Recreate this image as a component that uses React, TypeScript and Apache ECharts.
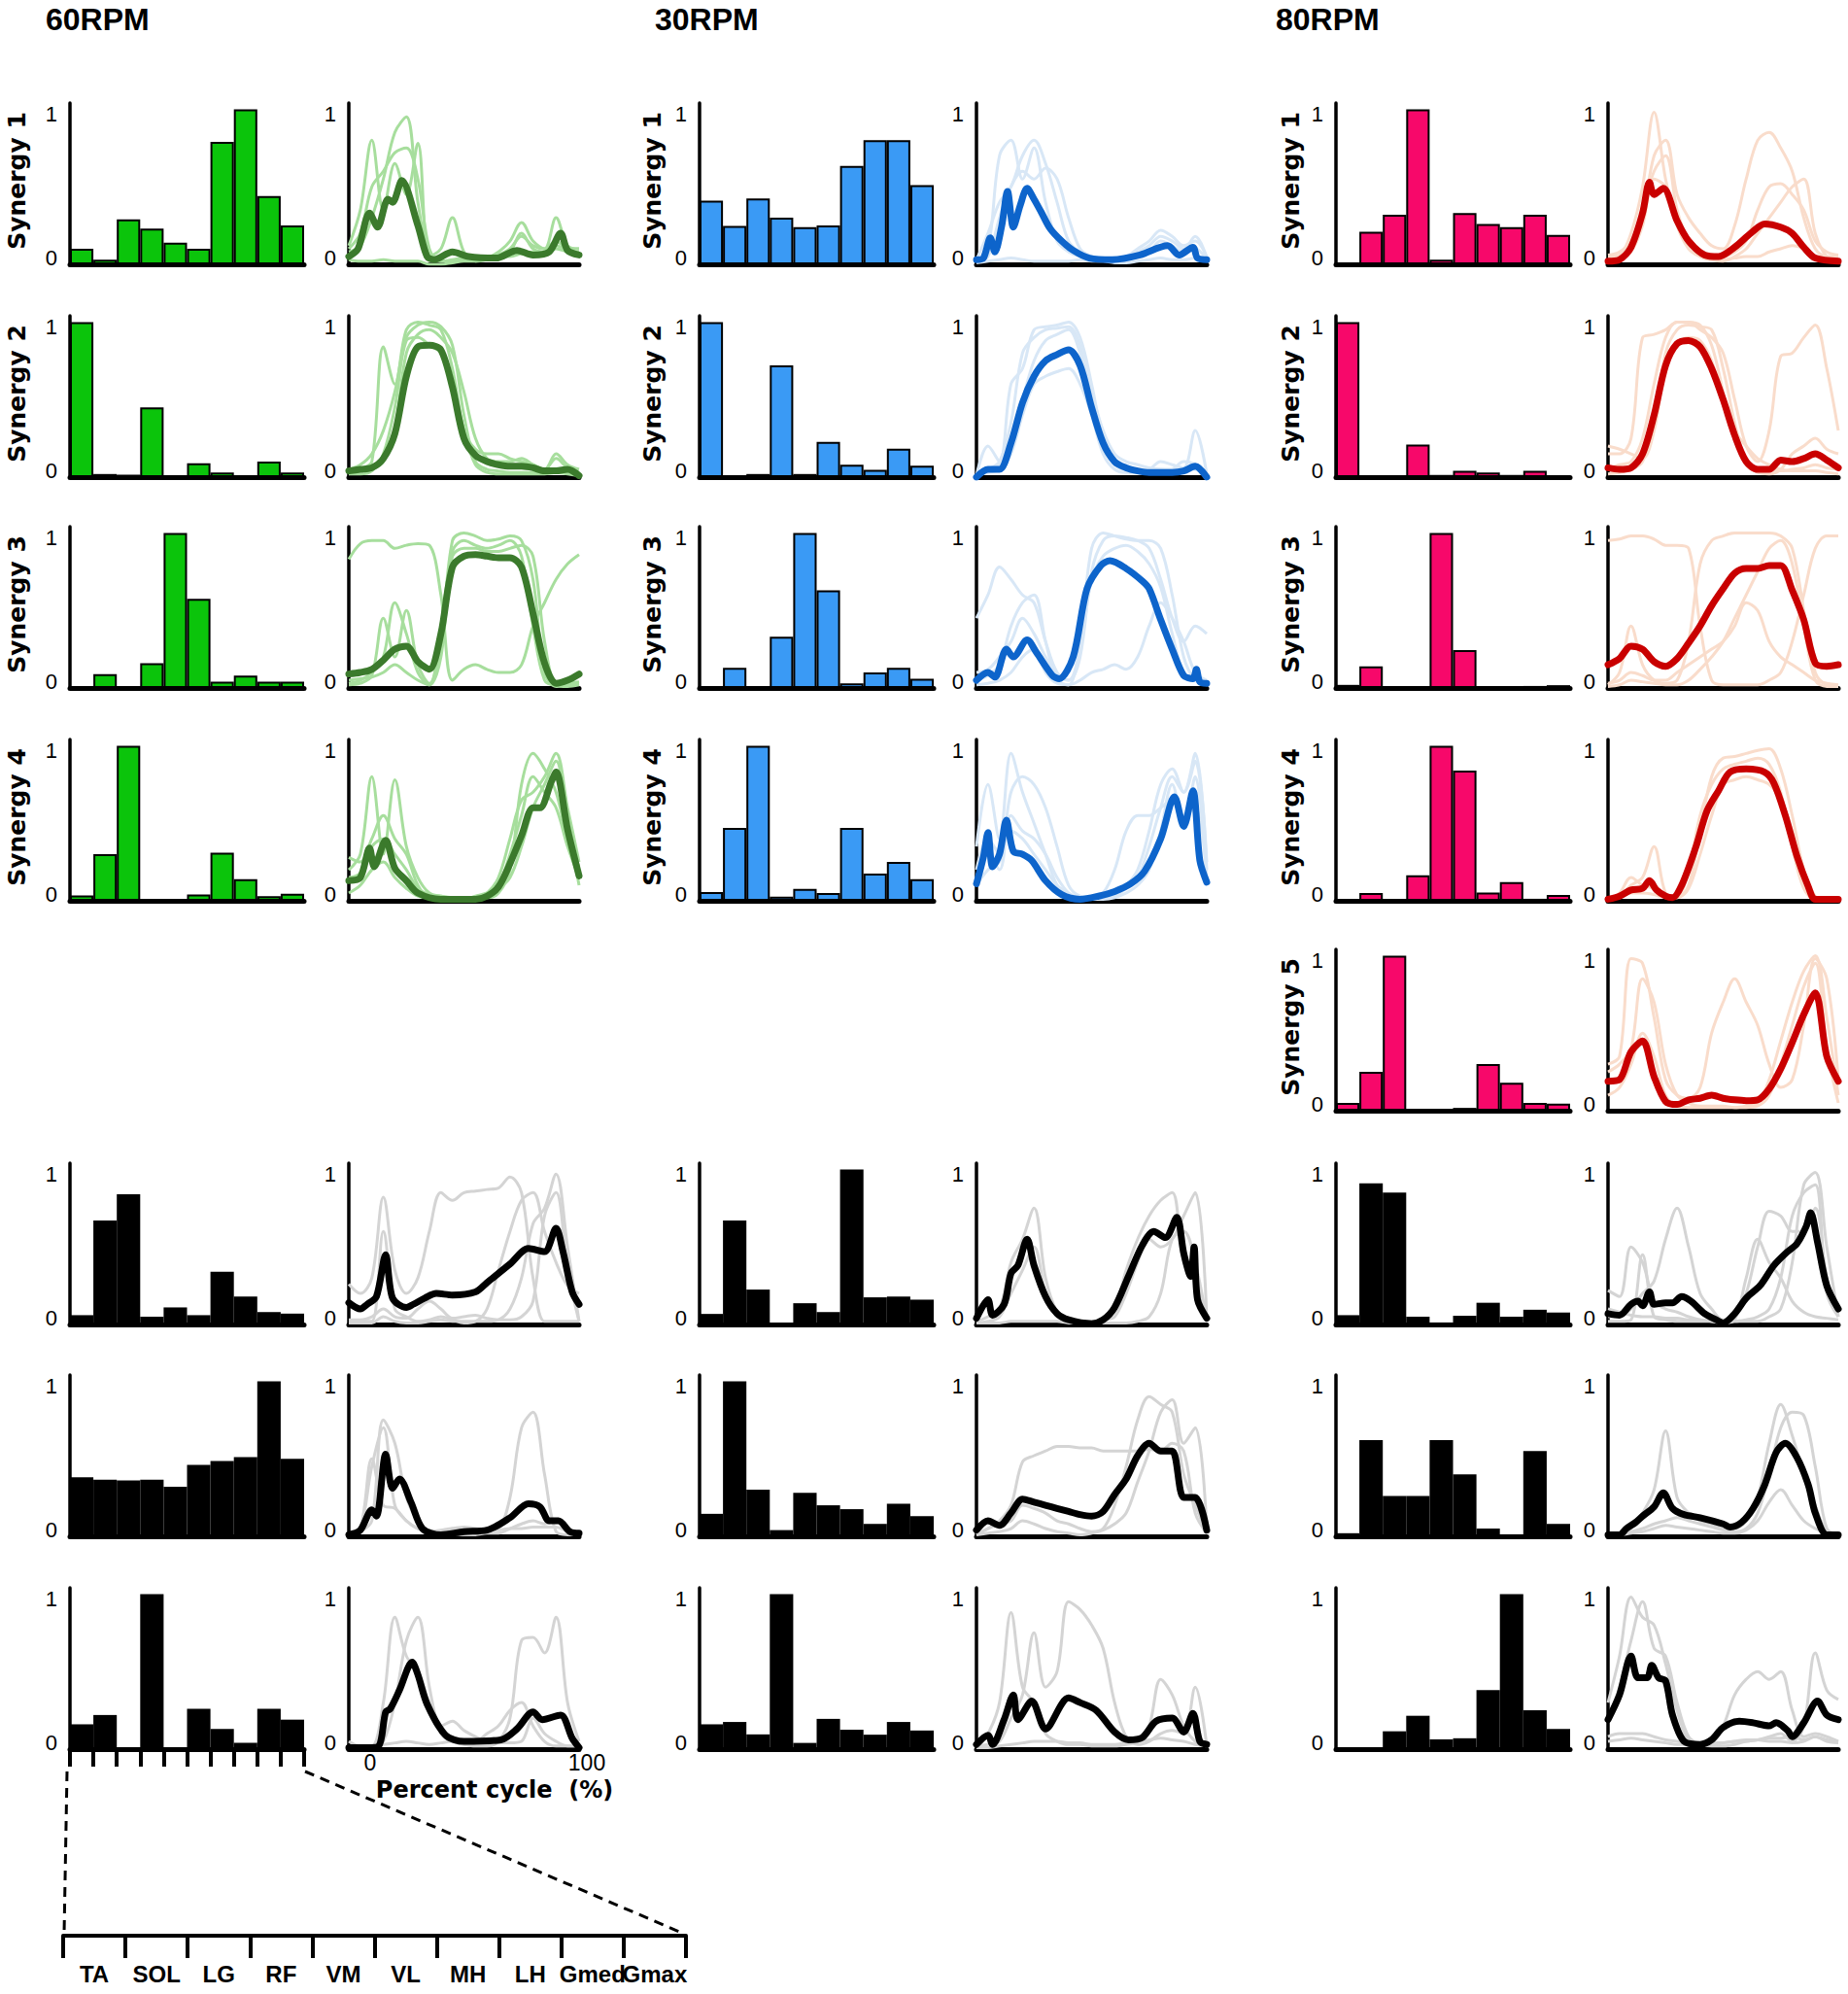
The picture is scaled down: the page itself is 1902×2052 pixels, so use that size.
import React, { useEffect, useRef } from 'react';
import * as echarts from 'echarts';

// ---------- categories / ticks ----------
const MUSCLES = ['TA', 'SOL', 'LG', 'RF', 'VM', 'VL', 'MH', 'LH', 'Gmed', 'Gmax'];
const PCT = [0, 5, 10, 15, 20, 25, 30, 35, 40, 45, 50, 55, 60, 65, 70, 75, 80, 85, 90, 95, 100];
const CONDITIONS = ['60RPM', '30RPM', '80RPM'];
const SYNERGY_LABELS = ['Synergy 1', 'Synergy 2', 'Synergy 3', 'Synergy 4', 'Synergy 5'];
const Y_TICKS = ['0', '1'];
const CYCLE_TICKS = ['0', '100'];
const CYCLE_TITLE = 'Percent cycle  (%)';

// ---------- 60 RPM ----------
const rpm60_s1_w = [0.10, 0.03, 0.29, 0.23, 0.14, 0.10, 0.79, 1.0, 0.44, 0.25];
const rpm60_s1_meanX = [0, 4, 9, 12.5, 17, 19, 23, 30, 34, 37, 45, 52, 64, 73, 80, 87, 92, 95, 100];
const rpm60_s1_mean = [0.05, 0.10, 0.33, 0.24, 0.42, 0.40, 0.54, 0.25, 0.05, 0.03, 0.08, 0.05, 0.04, 0.09, 0.06, 0.08, 0.20, 0.09, 0.06];
const rpm60_s1_subj = [
  [0.12, 0.35, 0.80, 0.35, 0.65, 0.45, 0.78, 0.05, 0.10, 0.30, 0.08, 0.02, 0.04, 0.08, 0.15, 0.27, 0.15, 0.10, 0.30, 0.12, 0.10],
  [0.08, 0.12, 0.30, 0.55, 0.85, 0.95, 0.40, 0.05, 0.02, 0.02, 0.03, 0.05, 0.04, 0.06, 0.10, 0.18, 0.12, 0.10, 0.15, 0.10, 0.10],
  [0.03, 0.02, 0.02, 0.03, 0.02, 0.02, 0.02, 0.00, 0.00, 0.01, 0.02, 0.02, 0.03, 0.05, 0.05, 0.07, 0.08, 0.06, 0.10, 0.08, 0.07],
  [0.10, 0.20, 0.50, 0.60, 0.72, 0.75, 0.55, 0.10, 0.02, 0.03, 0.04, 0.04, 0.03, 0.04, 0.08, 0.20, 0.10, 0.08, 0.12, 0.09, 0.08],
];
const rpm60_s2_w = [1.0, 0.02, 0.015, 0.45, 0.005, 0.09, 0.03, 0.005, 0.10, 0.03];
const rpm60_s2_mean = [0.04, 0.05, 0.06, 0.12, 0.28, 0.65, 0.84, 0.85, 0.82, 0.58, 0.25, 0.14, 0.10, 0.08, 0.07, 0.07, 0.06, 0.04, 0.04, 0.05, 0.01];
const rpm60_s2_subj = [
  [0.02, 0.05, 0.10, 0.84, 0.60, 0.95, 1.0, 0.98, 0.95, 0.70, 0.30, 0.18, 0.15, 0.15, 0.12, 0.10, 0.08, 0.05, 0.12, 0.06, 0.03],
  [0.05, 0.08, 0.15, 0.30, 0.55, 0.90, 0.98, 1.0, 0.97, 0.85, 0.40, 0.10, 0.05, 0.04, 0.03, 0.03, 0.03, 0.03, 0.04, 0.03, 0.02],
  [0.03, 0.04, 0.05, 0.10, 0.30, 0.80, 0.92, 0.95, 0.90, 0.80, 0.55, 0.25, 0.12, 0.10, 0.10, 0.12, 0.08, 0.05, 0.15, 0.08, 0.05],
  [0.02, 0.02, 0.04, 0.15, 0.45, 0.88, 0.90, 0.85, 0.80, 0.60, 0.30, 0.08, 0.03, 0.02, 0.02, 0.02, 0.02, 0.02, 0.03, 0.02, 0.01],
];
const rpm60_s3_w = [0.01, 0.09, 0.0, 0.16, 1.0, 0.575, 0.04, 0.08, 0.04, 0.04];
const rpm60_s3_mean = [0.09, 0.10, 0.12, 0.18, 0.25, 0.27, 0.17, 0.12, 0.35, 0.78, 0.85, 0.86, 0.85, 0.84, 0.84, 0.78, 0.48, 0.16, 0.03, 0.05, 0.09];
const rpm60_s3_subj = [
  [0.83, 0.93, 0.95, 0.95, 0.90, 0.92, 0.93, 0.92, 0.60, 0.05, 0.12, 0.15, 0.12, 0.10, 0.10, 0.15, 0.40, 0.55, 0.70, 0.80, 0.86],
  [0.02, 0.03, 0.08, 0.45, 0.20, 0.50, 0.15, 0.03, 0.30, 0.95, 1.0, 0.98, 0.95, 0.96, 0.98, 0.95, 0.70, 0.10, 0.01, 0.02, 0.03],
  [0.03, 0.05, 0.10, 0.20, 0.55, 0.35, 0.10, 0.02, 0.20, 0.88, 0.95, 0.92, 0.90, 0.92, 0.95, 0.85, 0.40, 0.05, 0.02, 0.03, 0.04],
  [0.05, 0.06, 0.07, 0.10, 0.15, 0.10, 0.05, 0.02, 0.40, 0.85, 0.90, 0.90, 0.88, 0.88, 0.90, 0.92, 0.85, 0.30, 0.02, 0.01, 0.02],
];
const rpm60_s4_w = [0.035, 0.30, 1.0, 0.006, 0.0, 0.04, 0.31, 0.14, 0.03, 0.045];
const rpm60_s4_meanX = [0, 5, 9, 11, 16, 20, 25, 30, 40, 55, 60, 65, 70, 75, 80, 83, 88, 90, 95, 100];
const rpm60_s4_mean = [0.13, 0.15, 0.34, 0.22, 0.39, 0.21, 0.13, 0.05, 0.01, 0.01, 0.03, 0.09, 0.24, 0.42, 0.60, 0.60, 0.77, 0.83, 0.46, 0.16];
const rpm60_s4_subj = [
  [0.20, 0.30, 0.80, 0.30, 0.78, 0.35, 0.15, 0.05, 0.03, 0.02, 0.02, 0.02, 0.02, 0.05, 0.20, 0.75, 0.95, 0.85, 0.70, 0.40, 0.22],
  [0.28, 0.25, 0.40, 0.55, 0.40, 0.30, 0.10, 0.02, 0.02, 0.02, 0.01, 0.02, 0.05, 0.15, 0.40, 0.65, 0.70, 0.80, 0.95, 0.60, 0.25],
  [0.05, 0.10, 0.20, 0.25, 0.15, 0.08, 0.03, 0.02, 0.02, 0.01, 0.01, 0.03, 0.05, 0.08, 0.15, 0.35, 0.60, 0.75, 0.90, 0.50, 0.10],
  [0.15, 0.18, 0.35, 0.40, 0.30, 0.20, 0.08, 0.04, 0.03, 0.02, 0.02, 0.02, 0.04, 0.10, 0.30, 0.55, 0.80, 0.70, 0.60, 0.35, 0.15],
];
const rpm60_b1_w = [0.06, 0.67, 0.84, 0.05, 0.11, 0.06, 0.34, 0.18, 0.08, 0.07];
const rpm60_b1_meanX = [0, 5, 8, 12, 16, 19, 25, 28, 33, 38, 45, 55, 60, 70, 78, 85, 90, 93, 97, 100];
const rpm60_b1_mean = [0.14, 0.10, 0.13, 0.18, 0.45, 0.17, 0.11, 0.13, 0.17, 0.20, 0.19, 0.21, 0.27, 0.39, 0.49, 0.47, 0.62, 0.47, 0.21, 0.13];
const rpm60_b1_subj = [
  [0.26, 0.20, 0.30, 0.82, 0.35, 0.20, 0.30, 0.60, 0.85, 0.80, 0.85, 0.86, 0.87, 0.88, 0.95, 0.85, 0.30, 0.02, 0.02, 0.02, 0.02],
  [0.02, 0.02, 0.02, 0.60, 0.10, 0.05, 0.02, 0.03, 0.05, 0.03, 0.01, 0.02, 0.10, 0.35, 0.60, 0.80, 0.85, 0.60, 0.40, 0.25, 0.20],
  [0.01, 0.01, 0.01, 0.05, 0.02, 0.01, 0.01, 0.02, 0.03, 0.02, 0.02, 0.02, 0.02, 0.03, 0.10, 0.30, 0.65, 0.75, 0.97, 0.50, 0.02],
  [0.03, 0.03, 0.05, 0.10, 0.05, 0.04, 0.10, 0.15, 0.10, 0.04, 0.05, 0.06, 0.04, 0.03, 0.03, 0.05, 0.15, 0.70, 0.85, 0.35, 0.02],
];
const rpm60_b2_w = [0.38, 0.365, 0.36, 0.365, 0.32, 0.46, 0.485, 0.51, 1.0, 0.50];
const rpm60_b2_meanX = [0, 5, 10, 12, 16, 19, 22, 27, 32, 40, 50, 60, 70, 78, 83, 87, 91, 96, 100];
const rpm60_b2_mean = [0.01, 0.04, 0.17, 0.13, 0.53, 0.31, 0.37, 0.22, 0.05, 0.01, 0.03, 0.04, 0.12, 0.21, 0.19, 0.10, 0.10, 0.03, 0.02];
const rpm60_b2_subj = [
  [0.02, 0.05, 0.45, 0.70, 0.20, 0.10, 0.05, 0.04, 0.03, 0.05, 0.06, 0.05, 0.04, 0.05, 0.25, 0.70, 0.80, 0.40, 0.03, 0.01, 0.01],
  [0.01, 0.03, 0.10, 0.75, 0.60, 0.25, 0.10, 0.03, 0.02, 0.01, 0.01, 0.01, 0.02, 0.02, 0.05, 0.08, 0.10, 0.08, 0.10, 0.05, 0.02],
  [0.02, 0.05, 0.50, 0.20, 0.18, 0.10, 0.05, 0.03, 0.04, 0.05, 0.05, 0.05, 0.04, 0.04, 0.05, 0.05, 0.06, 0.06, 0.06, 0.03, 0.01],
];
const rpm60_b3_w = [0.16, 0.22, 0.0, 1.0, 0.0, 0.26, 0.13, 0.04, 0.26, 0.19];
const rpm60_b3_meanX = [0, 8, 13, 16, 18, 22, 27.5, 30, 34, 42, 50, 66, 73, 80, 84, 92, 97, 100];
const rpm60_b3_mean = [0.01, 0.01, 0.02, 0.24, 0.26, 0.38, 0.56, 0.48, 0.29, 0.09, 0.05, 0.06, 0.13, 0.24, 0.19, 0.22, 0.07, 0.01];
const rpm60_b3_subj = [
  [0.05, 0.02, 0.02, 0.30, 0.85, 0.60, 0.50, 0.30, 0.15, 0.18, 0.12, 0.08, 0.05, 0.04, 0.04, 0.05, 0.20, 0.10, 0.05, 0.02, 0.02],
  [0.01, 0.01, 0.01, 0.05, 0.30, 0.70, 0.85, 0.40, 0.10, 0.05, 0.03, 0.02, 0.02, 0.05, 0.20, 0.70, 0.72, 0.62, 0.85, 0.30, 0.05],
  [0.02, 0.02, 0.02, 0.03, 0.04, 0.05, 0.04, 0.03, 0.04, 0.05, 0.05, 0.05, 0.10, 0.15, 0.25, 0.30, 0.15, 0.05, 0.02, 0.02, 0.02],
];

// ---------- 30 RPM ----------
const rpm30_s1_w = [0.41, 0.247, 0.425, 0.30, 0.24, 0.25, 0.635, 0.80, 0.80, 0.51];
const rpm30_s1_meanX = [0, 3, 6, 8, 11, 13.5, 16, 19, 22, 25, 28, 32, 37, 42, 49, 59, 71, 83, 88, 94, 96, 100];
const rpm30_s1_mean = [0.03, 0.04, 0.17, 0.08, 0.25, 0.47, 0.24, 0.38, 0.49, 0.42, 0.34, 0.23, 0.15, 0.09, 0.04, 0.03, 0.06, 0.12, 0.06, 0.11, 0.04, 0.03];
const rpm30_s1_subj = [
  [0.02, 0.10, 0.70, 0.80, 0.55, 0.75, 0.40, 0.15, 0.08, 0.05, 0.03, 0.03, 0.03, 0.05, 0.10, 0.15, 0.22, 0.18, 0.12, 0.15, 0.05],
  [0.03, 0.20, 0.40, 0.50, 0.70, 0.80, 0.65, 0.40, 0.15, 0.08, 0.05, 0.04, 0.03, 0.04, 0.08, 0.12, 0.18, 0.15, 0.10, 0.18, 0.04],
  [0.02, 0.05, 0.30, 0.50, 0.60, 0.55, 0.62, 0.55, 0.30, 0.10, 0.05, 0.03, 0.03, 0.03, 0.05, 0.08, 0.15, 0.12, 0.08, 0.10, 0.03],
  [0.01, 0.02, 0.03, 0.04, 0.03, 0.02, 0.02, 0.02, 0.02, 0.03, 0.02, 0.02, 0.01, 0.01, 0.02, 0.03, 0.04, 0.03, 0.03, 0.04, 0.02],
];
const rpm30_s2_w = [1.0, 0.01, 0.02, 0.72, 0.02, 0.227, 0.08, 0.047, 0.184, 0.074];
const rpm30_s2_mean = [0.0, 0.05, 0.05, 0.22, 0.48, 0.65, 0.75, 0.79, 0.82, 0.72, 0.45, 0.22, 0.10, 0.06, 0.04, 0.03, 0.03, 0.03, 0.04, 0.07, 0.0];
const rpm30_s2_subj = [
  [0.01, 0.20, 0.10, 0.60, 0.70, 0.95, 0.97, 0.98, 1.0, 0.90, 0.60, 0.25, 0.10, 0.05, 0.04, 0.05, 0.10, 0.08, 0.06, 0.30, 0.02],
  [0.02, 0.05, 0.10, 0.35, 0.80, 0.90, 0.95, 0.96, 0.97, 0.85, 0.50, 0.20, 0.08, 0.05, 0.05, 0.05, 0.05, 0.04, 0.04, 0.06, 0.02],
  [0.01, 0.03, 0.05, 0.15, 0.40, 0.60, 0.65, 0.68, 0.70, 0.60, 0.40, 0.15, 0.05, 0.03, 0.03, 0.03, 0.04, 0.05, 0.10, 0.08, 0.01],
  [0.02, 0.04, 0.08, 0.25, 0.50, 0.75, 0.88, 0.92, 0.95, 0.80, 0.55, 0.30, 0.15, 0.10, 0.08, 0.06, 0.05, 0.05, 0.06, 0.05, 0.02],
];
const rpm30_s3_w = [0.0, 0.13, 0.01, 0.33, 1.0, 0.63, 0.03, 0.10, 0.13, 0.06];
const rpm30_s3_meanX = [0, 5, 8, 13, 16, 22, 26, 33, 36, 42, 48, 54, 58, 65, 72, 75, 80, 85, 90, 94, 95.5, 97, 100];
const rpm30_s3_mean = [0.05, 0.10, 0.07, 0.25, 0.20, 0.31, 0.23, 0.08, 0.06, 0.20, 0.64, 0.79, 0.82, 0.77, 0.69, 0.64, 0.44, 0.25, 0.08, 0.06, 0.12, 0.04, 0.03];
const rpm30_s3_subj = [
  [0.45, 0.60, 0.78, 0.70, 0.60, 0.55, 0.30, 0.10, 0.05, 0.20, 0.75, 0.95, 0.98, 0.97, 0.95, 0.90, 0.70, 0.45, 0.30, 0.40, 0.35],
  [0.05, 0.08, 0.15, 0.40, 0.55, 0.60, 0.30, 0.05, 0.02, 0.30, 0.90, 1.0, 0.98, 0.96, 0.95, 0.95, 0.90, 0.60, 0.20, 0.05, 0.02],
  [0.02, 0.03, 0.05, 0.10, 0.20, 0.25, 0.10, 0.03, 0.02, 0.05, 0.10, 0.12, 0.15, 0.12, 0.20, 0.40, 0.55, 0.45, 0.30, 0.10, 0.05],
  [0.10, 0.12, 0.20, 0.30, 0.45, 0.35, 0.20, 0.08, 0.05, 0.25, 0.70, 0.85, 0.90, 0.92, 0.88, 0.80, 0.65, 0.35, 0.10, 0.05, 0.04],
];
const rpm30_s4_w = [0.056, 0.47, 1.0, 0.027, 0.076, 0.05, 0.47, 0.175, 0.25, 0.14];
const rpm30_s4_meanX = [0, 3, 5, 7, 10, 13, 16, 20, 24, 30, 37, 45, 53, 60, 67, 73, 80, 86, 90, 94, 97, 100];
const rpm30_s4_mean = [0.11, 0.28, 0.44, 0.22, 0.30, 0.52, 0.32, 0.30, 0.26, 0.13, 0.04, 0.01, 0.03, 0.06, 0.11, 0.19, 0.40, 0.67, 0.48, 0.71, 0.26, 0.12];
const rpm30_s4_subj = [
  [0.35, 0.75, 0.40, 0.95, 0.70, 0.50, 0.30, 0.10, 0.03, 0.02, 0.02, 0.02, 0.05, 0.10, 0.20, 0.45, 0.75, 0.85, 0.70, 0.95, 0.20],
  [0.20, 0.40, 0.30, 0.70, 0.80, 0.75, 0.60, 0.35, 0.10, 0.03, 0.02, 0.02, 0.03, 0.08, 0.15, 0.35, 0.60, 0.80, 0.70, 0.90, 0.25],
  [0.10, 0.20, 0.25, 0.45, 0.40, 0.30, 0.20, 0.10, 0.05, 0.02, 0.02, 0.05, 0.20, 0.45, 0.55, 0.55, 0.60, 0.65, 0.55, 0.60, 0.15],
  [0.15, 0.30, 0.20, 0.55, 0.45, 0.40, 0.30, 0.15, 0.05, 0.01, 0.01, 0.01, 0.02, 0.05, 0.10, 0.20, 0.45, 0.75, 0.50, 0.80, 0.10],
];
const rpm30_b1_w = [0.068, 0.67, 0.225, 0.005, 0.137, 0.08, 1.0, 0.175, 0.18, 0.16];
const rpm30_b1_meanX = [0, 5, 7, 12, 15, 18, 22, 25, 30, 35, 40, 50, 55, 60, 66, 72, 77, 82, 87, 90, 93, 94.5, 96, 100];
const rpm30_b1_mean = [0.04, 0.16, 0.06, 0.13, 0.33, 0.38, 0.55, 0.38, 0.18, 0.07, 0.03, 0.005, 0.03, 0.11, 0.31, 0.51, 0.60, 0.56, 0.69, 0.46, 0.31, 0.50, 0.16, 0.04];
const rpm30_b1_subj = [
  [0.02, 0.05, 0.10, 0.40, 0.55, 0.75, 0.30, 0.08, 0.02, 0.01, 0.01, 0.02, 0.10, 0.35, 0.55, 0.70, 0.80, 0.85, 0.40, 0.30, 0.05],
  [0.01, 0.02, 0.05, 0.20, 0.35, 0.50, 0.20, 0.05, 0.03, 0.02, 0.02, 0.03, 0.05, 0.20, 0.40, 0.55, 0.50, 0.55, 0.70, 0.85, 0.05],
  [0.01, 0.01, 0.01, 0.02, 0.02, 0.02, 0.02, 0.02, 0.01, 0.01, 0.01, 0.01, 0.01, 0.01, 0.02, 0.05, 0.20, 0.55, 0.60, 0.40, 0.02],
];
const rpm30_b2_w = [0.145, 1.0, 0.30, 0.04, 0.28, 0.20, 0.175, 0.08, 0.21, 0.13];
const rpm30_b2_mean = [0.04, 0.10, 0.07, 0.15, 0.24, 0.22, 0.20, 0.18, 0.16, 0.14, 0.13, 0.16, 0.27, 0.37, 0.52, 0.60, 0.55, 0.55, 0.25, 0.25, 0.04];
const rpm30_b2_subj = [
  [0.02, 0.05, 0.10, 0.20, 0.48, 0.52, 0.55, 0.58, 0.58, 0.57, 0.57, 0.55, 0.55, 0.55, 0.55, 0.56, 0.55, 0.60, 0.55, 0.15, 0.02],
  [0.01, 0.05, 0.08, 0.10, 0.20, 0.18, 0.15, 0.10, 0.08, 0.05, 0.03, 0.05, 0.20, 0.45, 0.75, 0.90, 0.85, 0.80, 0.40, 0.20, 0.02],
  [0.01, 0.02, 0.03, 0.05, 0.10, 0.08, 0.05, 0.03, 0.02, 0.01, 0.02, 0.04, 0.08, 0.15, 0.35, 0.55, 0.80, 0.88, 0.60, 0.70, 0.05],
];
const rpm30_b3_w = [0.16, 0.175, 0.095, 1.0, 0.04, 0.195, 0.125, 0.093, 0.175, 0.12];
const rpm30_b3_meanX = [0, 5, 7, 12, 16, 18, 24, 30, 40, 45, 52, 60, 66, 72, 78, 85, 90, 94, 97, 100];
const rpm30_b3_mean = [0.03, 0.09, 0.03, 0.19, 0.35, 0.19, 0.31, 0.13, 0.33, 0.30, 0.25, 0.11, 0.06, 0.075, 0.18, 0.20, 0.11, 0.23, 0.05, 0.03];
const rpm30_b3_subj = [
  [0.02, 0.10, 0.30, 0.88, 0.40, 0.30, 0.10, 0.05, 0.03, 0.03, 0.02, 0.02, 0.02, 0.03, 0.05, 0.15, 0.45, 0.35, 0.15, 0.05, 0.02],
  [0.02, 0.03, 0.05, 0.20, 0.35, 0.75, 0.40, 0.50, 0.95, 0.90, 0.80, 0.65, 0.30, 0.08, 0.03, 0.05, 0.10, 0.12, 0.10, 0.40, 0.02],
  [0.01, 0.01, 0.02, 0.03, 0.04, 0.05, 0.05, 0.05, 0.04, 0.04, 0.03, 0.03, 0.03, 0.04, 0.05, 0.06, 0.07, 0.06, 0.05, 0.03, 0.02],
];

// ---------- 80 RPM ----------
const rpm80_s1_w = [0.0, 0.21, 0.32, 1.0, 0.03, 0.33, 0.26, 0.24, 0.32, 0.19];
const rpm80_s1_meanX = [0, 5, 10, 15, 18, 20, 24, 30, 35, 42, 48, 55, 62, 68, 75, 80, 85, 90, 100];
const rpm80_s1_mean = [0.02, 0.03, 0.11, 0.33, 0.53, 0.45, 0.49, 0.28, 0.15, 0.06, 0.05, 0.11, 0.20, 0.26, 0.24, 0.20, 0.11, 0.04, 0.02];
const rpm80_s1_subj = [
  [0.05, 0.06, 0.20, 0.50, 0.98, 0.55, 0.25, 0.10, 0.05, 0.03, 0.03, 0.04, 0.05, 0.05, 0.08, 0.10, 0.12, 0.10, 0.05, 0.04, 0.03],
  [0.04, 0.05, 0.10, 0.30, 0.70, 0.80, 0.45, 0.30, 0.20, 0.12, 0.10, 0.25, 0.55, 0.80, 0.85, 0.75, 0.60, 0.30, 0.10, 0.05, 0.05],
  [0.02, 0.03, 0.08, 0.25, 0.55, 0.50, 0.30, 0.15, 0.06, 0.03, 0.02, 0.05, 0.10, 0.20, 0.30, 0.40, 0.50, 0.55, 0.20, 0.05, 0.03],
  [0.06, 0.08, 0.15, 0.35, 0.60, 0.70, 0.35, 0.15, 0.08, 0.05, 0.05, 0.08, 0.15, 0.35, 0.50, 0.52, 0.45, 0.35, 0.15, 0.08, 0.06],
];
const rpm80_s2_w = [1.0, 0.004, 0.01, 0.21, 0.014, 0.04, 0.03, 0.014, 0.04, 0.01];
const rpm80_s2_mean = [0.06, 0.05, 0.06, 0.15, 0.40, 0.72, 0.86, 0.88, 0.84, 0.70, 0.50, 0.27, 0.10, 0.05, 0.05, 0.11, 0.10, 0.12, 0.15, 0.11, 0.06];
const rpm80_s2_subj = [
  [0.15, 0.15, 0.25, 0.90, 0.92, 0.95, 1.0, 1.0, 0.98, 0.85, 0.55, 0.25, 0.08, 0.04, 0.04, 0.04, 0.05, 0.06, 0.08, 0.06, 0.05],
  [0.05, 0.08, 0.10, 0.25, 0.60, 0.90, 1.0, 1.0, 0.95, 0.90, 0.80, 0.50, 0.20, 0.10, 0.30, 0.78, 0.80, 0.90, 0.98, 0.70, 0.30],
  [0.02, 0.03, 0.05, 0.10, 0.35, 0.80, 0.95, 0.98, 0.97, 0.95, 0.70, 0.35, 0.10, 0.03, 0.02, 0.05, 0.15, 0.20, 0.25, 0.18, 0.15],
  [0.20, 0.18, 0.15, 0.12, 0.30, 0.70, 0.85, 0.90, 0.88, 0.75, 0.50, 0.30, 0.20, 0.12, 0.08, 0.05, 0.04, 0.04, 0.04, 0.03, 0.02],
];
const rpm80_s3_w = [0.02, 0.14, 0.0, 0.01, 1.0, 0.245, 0.003, 0.008, 0.013, 0.018];
const rpm80_s3_mean = [0.15, 0.19, 0.27, 0.25, 0.17, 0.14, 0.19, 0.29, 0.40, 0.53, 0.64, 0.74, 0.77, 0.77, 0.79, 0.79, 0.63, 0.44, 0.16, 0.14, 0.15];
const rpm80_s3_subj = [
  [0.95, 0.96, 0.98, 0.98, 0.96, 0.92, 0.92, 0.90, 0.40, 0.05, 0.02, 0.02, 0.02, 0.02, 0.05, 0.10, 0.30, 0.60, 0.90, 0.98, 0.98],
  [0.02, 0.10, 0.40, 0.15, 0.05, 0.03, 0.05, 0.30, 0.80, 0.95, 0.98, 1.0, 1.0, 1.0, 1.0, 0.98, 0.90, 0.50, 0.10, 0.02, 0.01],
  [0.03, 0.05, 0.10, 0.08, 0.05, 0.05, 0.10, 0.15, 0.20, 0.25, 0.30, 0.40, 0.55, 0.50, 0.30, 0.20, 0.15, 0.10, 0.05, 0.03, 0.02],
  [0.01, 0.02, 0.05, 0.04, 0.03, 0.02, 0.02, 0.05, 0.12, 0.20, 0.30, 0.45, 0.60, 0.75, 0.90, 0.95, 0.80, 0.40, 0.05, 0.01, 0.01],
];
const rpm80_s4_w = [0.008, 0.05, 0.003, 0.165, 1.0, 0.84, 0.053, 0.12, 0.013, 0.037];
const rpm80_s4_meanX = [0, 5, 10, 15, 18, 21, 25, 28, 32, 38, 43, 48, 53, 60, 68, 72, 77, 82, 87, 90, 100];
const rpm80_s4_mean = [0.01, 0.03, 0.07, 0.08, 0.13, 0.07, 0.03, 0.02, 0.10, 0.34, 0.58, 0.71, 0.83, 0.85, 0.83, 0.76, 0.55, 0.29, 0.09, 0.01, 0.01];
const rpm80_s4_subj = [
  [0.02, 0.03, 0.10, 0.15, 0.35, 0.05, 0.02, 0.10, 0.45, 0.80, 0.92, 0.93, 0.95, 0.97, 0.98, 0.85, 0.55, 0.20, 0.02, 0.01, 0.01],
  [0.01, 0.05, 0.15, 0.10, 0.08, 0.04, 0.03, 0.20, 0.55, 0.75, 0.85, 0.88, 0.90, 0.92, 0.88, 0.70, 0.35, 0.08, 0.01, 0.01, 0.01],
  [0.01, 0.02, 0.05, 0.05, 0.04, 0.02, 0.02, 0.08, 0.30, 0.55, 0.75, 0.78, 0.80, 0.78, 0.75, 0.65, 0.45, 0.20, 0.03, 0.01, 0.01],
];
const rpm80_s5_w = [0.05, 0.25, 1.0, 0.005, 0.005, 0.018, 0.30, 0.18, 0.05, 0.045];
const rpm80_s5_mean = [0.19, 0.20, 0.38, 0.45, 0.22, 0.06, 0.04, 0.07, 0.08, 0.10, 0.08, 0.07, 0.065, 0.07, 0.14, 0.27, 0.44, 0.62, 0.76, 0.35, 0.19];
const rpm80_s5_subj = [
  [0.30, 0.35, 0.98, 0.95, 0.60, 0.20, 0.10, 0.08, 0.15, 0.50, 0.70, 0.85, 0.70, 0.55, 0.30, 0.15, 0.20, 0.55, 0.98, 0.85, 0.20],
  [0.25, 0.30, 0.40, 0.85, 0.70, 0.30, 0.10, 0.05, 0.03, 0.03, 0.03, 0.02, 0.03, 0.05, 0.20, 0.45, 0.70, 0.90, 1.0, 0.60, 0.10],
  [0.10, 0.15, 0.30, 0.50, 0.35, 0.10, 0.03, 0.02, 0.02, 0.02, 0.02, 0.02, 0.02, 0.03, 0.10, 0.30, 0.55, 0.80, 0.95, 0.40, 0.05],
];
const rpm80_b1_w = [0.06, 0.91, 0.85, 0.05, 0.013, 0.056, 0.14, 0.05, 0.095, 0.077];
const rpm80_b1_meanX = [0, 5, 10, 13, 15, 18, 20, 25, 28, 32, 36, 42, 47, 50, 55, 60, 66, 72, 78, 82, 86, 88, 91, 95, 100];
const rpm80_b1_mean = [0.07, 0.06, 0.13, 0.15, 0.12, 0.21, 0.13, 0.14, 0.14, 0.18, 0.15, 0.07, 0.03, 0.01, 0.07, 0.17, 0.25, 0.38, 0.47, 0.52, 0.63, 0.72, 0.53, 0.25, 0.10];
const rpm80_b1_subj = [
  [0.22, 0.18, 0.50, 0.40, 0.15, 0.10, 0.08, 0.05, 0.03, 0.02, 0.01, 0.03, 0.30, 0.55, 0.40, 0.30, 0.15, 0.08, 0.05, 0.04, 0.03],
  [0.05, 0.05, 0.10, 0.20, 0.28, 0.55, 0.75, 0.50, 0.20, 0.10, 0.03, 0.05, 0.20, 0.50, 0.73, 0.70, 0.60, 0.60, 0.75, 0.30, 0.05],
  [0.02, 0.02, 0.03, 0.45, 0.05, 0.03, 0.02, 0.02, 0.02, 0.02, 0.01, 0.02, 0.02, 0.02, 0.05, 0.10, 0.40, 0.90, 0.98, 0.50, 0.05],
  [0.10, 0.08, 0.06, 0.05, 0.05, 0.04, 0.04, 0.03, 0.03, 0.02, 0.02, 0.02, 0.03, 0.05, 0.10, 0.30, 0.70, 0.85, 0.90, 0.20, 0.05],
];
const rpm80_b2_w = [0.02, 0.62, 0.26, 0.26, 0.62, 0.40, 0.05, 0.013, 0.55, 0.08];
const rpm80_b2_meanX = [0, 5, 8, 12, 15, 20, 24, 28, 33, 40, 50, 53, 58, 63, 68, 73, 77, 82, 87, 90, 95, 100];
const rpm80_b2_mean = [0.01, 0.01, 0.05, 0.09, 0.13, 0.19, 0.28, 0.18, 0.14, 0.12, 0.08, 0.06, 0.09, 0.18, 0.33, 0.54, 0.60, 0.51, 0.33, 0.15, 0.01, 0.01];
const rpm80_b2_subj = [
  [0.01, 0.01, 0.05, 0.15, 0.30, 0.68, 0.25, 0.15, 0.10, 0.08, 0.05, 0.05, 0.10, 0.25, 0.60, 0.85, 0.65, 0.40, 0.20, 0.03, 0.01],
  [0.01, 0.01, 0.03, 0.05, 0.08, 0.10, 0.12, 0.10, 0.08, 0.06, 0.04, 0.03, 0.05, 0.15, 0.40, 0.70, 0.80, 0.78, 0.45, 0.05, 0.01],
  [0.01, 0.01, 0.02, 0.03, 0.05, 0.07, 0.06, 0.05, 0.04, 0.03, 0.02, 0.02, 0.04, 0.10, 0.22, 0.30, 0.20, 0.10, 0.05, 0.02, 0.01],
];
const rpm80_b3_w = [0.0, 0.008, 0.115, 0.215, 0.063, 0.07, 0.38, 1.0, 0.25, 0.13];
const rpm80_b3_meanX = [0, 5, 10, 13, 17, 19, 22, 25, 28, 33, 40, 45, 50, 57, 63, 70, 73, 78, 80, 85, 91, 95, 100];
const rpm80_b3_mean = [0.19, 0.35, 0.60, 0.46, 0.46, 0.54, 0.46, 0.44, 0.22, 0.05, 0.03, 0.06, 0.14, 0.18, 0.17, 0.15, 0.17, 0.12, 0.08, 0.17, 0.31, 0.22, 0.19];
const rpm80_b3_subj = [
  [0.30, 0.60, 0.98, 0.85, 0.80, 0.55, 0.25, 0.05, 0.03, 0.05, 0.15, 0.35, 0.45, 0.50, 0.45, 0.50, 0.25, 0.08, 0.10, 0.08, 0.05],
  [0.20, 0.40, 0.70, 0.95, 0.65, 0.60, 0.30, 0.08, 0.03, 0.02, 0.02, 0.03, 0.05, 0.06, 0.08, 0.10, 0.05, 0.15, 0.62, 0.38, 0.32],
  [0.08, 0.10, 0.10, 0.10, 0.08, 0.06, 0.05, 0.04, 0.03, 0.03, 0.04, 0.05, 0.06, 0.06, 0.07, 0.07, 0.08, 0.06, 0.08, 0.06, 0.05],
  [0.05, 0.06, 0.07, 0.06, 0.05, 0.04, 0.03, 0.03, 0.03, 0.04, 0.04, 0.05, 0.05, 0.06, 0.05, 0.05, 0.04, 0.05, 0.08, 0.05, 0.04],
];

// ---------- layout & style ----------
const FONT = '"Liberation Sans", Arial, Helvetica, sans-serif';
const BAR_LEFT = [72, 720, 1375];
const LINE_LEFT = [359, 1005, 1655];
const BAR_W = 241;
const LINE_W = 237;
const ROW_ZERO = [272, 491, 708, 927, 1143, 1363, 1581, 1800];
const PANEL_H = 166;
const Y_MAX = 1.04;
const TITLE_X = [47, 674, 1313];
const SYN_X = [17, 671, 1328];

type Palette = { bar: string; border: number; light: string; dark: string };
const PALETTES: Palette[] = [
  { bar: '#0bc40b', border: 2, light: '#a7de9d', dark: '#3b7a2c' },
  { bar: '#3a9af5', border: 2, light: '#d8e7f6', dark: '#0d64cb' },
  { bar: '#f7086a', border: 2, light: '#f9dccb', dark: '#c90000' },
];
const BLACK: Palette = { bar: '#000000', border: 0, light: '#d4d4d4', dark: '#000000' };

type Panel = { col: number; row: number; label?: string; black?: boolean; w: number[]; mean: number[]; meanX?: number[]; subj: number[][] };

const PANELS: Panel[] = [
  { col: 0, row: 0, label: SYNERGY_LABELS[0], w: rpm60_s1_w, mean: rpm60_s1_mean, meanX: rpm60_s1_meanX, subj: rpm60_s1_subj },
  { col: 0, row: 1, label: SYNERGY_LABELS[1], w: rpm60_s2_w, mean: rpm60_s2_mean, subj: rpm60_s2_subj },
  { col: 0, row: 2, label: SYNERGY_LABELS[2], w: rpm60_s3_w, mean: rpm60_s3_mean, subj: rpm60_s3_subj },
  { col: 0, row: 3, label: SYNERGY_LABELS[3], w: rpm60_s4_w, mean: rpm60_s4_mean, meanX: rpm60_s4_meanX, subj: rpm60_s4_subj },
  { col: 0, row: 5, black: true, w: rpm60_b1_w, mean: rpm60_b1_mean, meanX: rpm60_b1_meanX, subj: rpm60_b1_subj },
  { col: 0, row: 6, black: true, w: rpm60_b2_w, mean: rpm60_b2_mean, meanX: rpm60_b2_meanX, subj: rpm60_b2_subj },
  { col: 0, row: 7, black: true, w: rpm60_b3_w, mean: rpm60_b3_mean, meanX: rpm60_b3_meanX, subj: rpm60_b3_subj },
  { col: 1, row: 0, label: SYNERGY_LABELS[0], w: rpm30_s1_w, mean: rpm30_s1_mean, meanX: rpm30_s1_meanX, subj: rpm30_s1_subj },
  { col: 1, row: 1, label: SYNERGY_LABELS[1], w: rpm30_s2_w, mean: rpm30_s2_mean, subj: rpm30_s2_subj },
  { col: 1, row: 2, label: SYNERGY_LABELS[2], w: rpm30_s3_w, mean: rpm30_s3_mean, meanX: rpm30_s3_meanX, subj: rpm30_s3_subj },
  { col: 1, row: 3, label: SYNERGY_LABELS[3], w: rpm30_s4_w, mean: rpm30_s4_mean, meanX: rpm30_s4_meanX, subj: rpm30_s4_subj },
  { col: 1, row: 5, black: true, w: rpm30_b1_w, mean: rpm30_b1_mean, meanX: rpm30_b1_meanX, subj: rpm30_b1_subj },
  { col: 1, row: 6, black: true, w: rpm30_b2_w, mean: rpm30_b2_mean, subj: rpm30_b2_subj },
  { col: 1, row: 7, black: true, w: rpm30_b3_w, mean: rpm30_b3_mean, meanX: rpm30_b3_meanX, subj: rpm30_b3_subj },
  { col: 2, row: 0, label: SYNERGY_LABELS[0], w: rpm80_s1_w, mean: rpm80_s1_mean, meanX: rpm80_s1_meanX, subj: rpm80_s1_subj },
  { col: 2, row: 1, label: SYNERGY_LABELS[1], w: rpm80_s2_w, mean: rpm80_s2_mean, subj: rpm80_s2_subj },
  { col: 2, row: 2, label: SYNERGY_LABELS[2], w: rpm80_s3_w, mean: rpm80_s3_mean, subj: rpm80_s3_subj },
  { col: 2, row: 3, label: SYNERGY_LABELS[3], w: rpm80_s4_w, mean: rpm80_s4_mean, meanX: rpm80_s4_meanX, subj: rpm80_s4_subj },
  { col: 2, row: 4, label: SYNERGY_LABELS[4], w: rpm80_s5_w, mean: rpm80_s5_mean, subj: rpm80_s5_subj },
  { col: 2, row: 5, black: true, w: rpm80_b1_w, mean: rpm80_b1_mean, meanX: rpm80_b1_meanX, subj: rpm80_b1_subj },
  { col: 2, row: 6, black: true, w: rpm80_b2_w, mean: rpm80_b2_mean, meanX: rpm80_b2_meanX, subj: rpm80_b2_subj },
  { col: 2, row: 7, black: true, w: rpm80_b3_w, mean: rpm80_b3_mean, meanX: rpm80_b3_meanX, subj: rpm80_b3_subj },
];

function yAxisDef(gi: number) {
  return {
    type: 'value', gridIndex: gi, min: 0, max: Y_MAX, interval: 1,
    axisLine: { show: true, onZero: false, lineStyle: { color: '#000', width: 3.5 } },
    axisTick: { show: false }, splitLine: { show: false }, axisLabel: { show: false },
  };
}

function yTickLabels(graphic: any[], axisX: number, zero: number) {
  const oneY = zero - PANEL_H / Y_MAX;
  graphic.push({ type: 'text', x: axisX - 13, y: zero - 7, style: { text: Y_TICKS[0], fill: '#000', font: `22px ${FONT}`, align: 'right', verticalAlign: 'middle' } });
  graphic.push({ type: 'text', x: axisX - 13, y: oneY + 5, style: { text: Y_TICKS[1], fill: '#000', font: `22px ${FONT}`, align: 'right', verticalAlign: 'middle' } });
}

function buildOption() {
  const grid: any[] = [];
  const xAxis: any[] = [];
  const yAxis: any[] = [];
  const series: any[] = [];
  const graphic: any[] = [];

  PANELS.forEach((p) => {
    const zero = ROW_ZERO[p.row];
    const top = zero - PANEL_H;
    const pal = p.black ? BLACK : PALETTES[p.col];
    const withTicks = p.col === 0 && p.row === 7;

    // weights bar panel
    const gb = grid.length;
    grid.push({ left: BAR_LEFT[p.col], top, width: BAR_W, height: PANEL_H, containLabel: false, outerBoundsMode: 'none' });
    xAxis.push({
      type: 'category', gridIndex: gb, data: MUSCLES, boundaryGap: true,
      axisLine: { show: true, onZero: false, lineStyle: { color: '#000', width: 5 } },
      axisTick: { show: withTicks, interval: 0, length: 18, alignWithLabel: false, lineStyle: { color: '#000', width: 4 } },
      axisLabel: { show: false }, splitLine: { show: false },
    });
    yAxis.push(yAxisDef(gb));
    yTickLabels(graphic, BAR_LEFT[p.col], zero);
    series.push({
      type: 'bar', xAxisIndex: gb, yAxisIndex: gb, data: p.w, barCategoryGap: '0%', barGap: '0%',
      itemStyle: { color: pal.bar, borderColor: '#000', borderWidth: pal.border },
      emphasis: { disabled: true }, silent: true,
    });

    // activation line panel
    const gl = grid.length;
    grid.push({ left: LINE_LEFT[p.col], top, width: LINE_W, height: PANEL_H, containLabel: false, outerBoundsMode: 'none' });
    xAxis.push({
      type: 'value', gridIndex: gl, min: 0, max: 100,
      axisLine: { show: true, onZero: false, lineStyle: { color: '#000', width: 5 } },
      axisTick: { show: false }, axisLabel: { show: false }, splitLine: { show: false },
    });
    yAxis.push(yAxisDef(gl));
    yTickLabels(graphic, LINE_LEFT[p.col], zero);
    p.subj.forEach((s) => {
      series.push({
        type: 'line', xAxisIndex: gl, yAxisIndex: gl, smooth: 0.35, showSymbol: false, silent: true,
        data: PCT.map((x, i) => [x, s[i]]),
        lineStyle: { color: pal.light, width: 3 }, z: 2,
      });
    });
    const mx = p.meanX || PCT;
    series.push({
      type: 'line', xAxisIndex: gl, yAxisIndex: gl, smooth: 0.3, showSymbol: false, silent: true,
      data: mx.map((x, i) => [x, p.mean[i]]),
      lineStyle: { color: pal.dark, width: 7, cap: 'round', join: 'round' }, z: 3,
    });

    if (p.label) {
      graphic.push({
        type: 'text', x: SYN_X[p.col], y: zero - 86, rotation: Math.PI / 2,
        style: { text: p.label, fill: '#000', font: `bold 25px "DejaVu Sans", ${FONT}`, align: 'center', verticalAlign: 'middle' },
      });
    }
  });

  // muscle legend axis
  const gm = grid.length;
  grid.push({ left: 65, top: 1892, width: 641, height: 100, containLabel: false, outerBoundsMode: 'none' });
  xAxis.push({
    type: 'category', gridIndex: gm, data: MUSCLES, boundaryGap: true,
    axisLine: { show: true, onZero: false, lineStyle: { color: '#000', width: 4 } },
    axisTick: { show: true, interval: 0, length: 23, lineStyle: { color: '#000', width: 4 } },
    axisLabel: { show: true, interval: 0, margin: 27, color: '#000', fontSize: 24, fontWeight: 'bold', fontFamily: FONT },
    splitLine: { show: false },
  });
  yAxis.push({ type: 'value', gridIndex: gm, min: 0, max: 1, show: false });

  // titles
  CONDITIONS.forEach((t, i) => {
    graphic.push({
      type: 'text', x: TITLE_X[i], y: 20,
      style: { text: t, fill: '#000', font: `bold 32px ${FONT}`, align: 'left', verticalAlign: 'middle' },
    });
  });

  // percent-cycle annotation under bottom-left activation panel
  graphic.push({ type: 'text', x: 381, y: 1814, style: { text: CYCLE_TICKS[0], fill: '#000', font: `23px ${FONT}`, align: 'center', verticalAlign: 'middle' } });
  graphic.push({ type: 'text', x: 604, y: 1814, style: { text: CYCLE_TICKS[1], fill: '#000', font: `23px ${FONT}`, align: 'center', verticalAlign: 'middle' } });
  graphic.push({ type: 'text', x: 509, y: 1842, style: { text: CYCLE_TITLE, fill: '#000', font: `bold 24px "DejaVu Sans", ${FONT}`, align: 'center', verticalAlign: 'middle' } });

  // dashed zoom connectors
  const dash = { stroke: '#000', lineWidth: 3, lineDash: [10, 7] };
  graphic.push({ type: 'line', shape: { x1: 69, y1: 1823, x2: 66, y2: 1990 }, style: dash });
  graphic.push({ type: 'line', shape: { x1: 314, y1: 1823, x2: 704, y2: 1990 }, style: dash });

  return {
    animation: false,
    backgroundColor: '#ffffff',
    grid, xAxis, yAxis, series, graphic,
  };
}

export default function App() {
  const ref = useRef<HTMLDivElement>(null);
  useEffect(() => {
    if (!ref.current) return;
    const chart = echarts.init(ref.current, null, { renderer: 'svg', width: 1902, height: 2052 });
    chart.setOption(buildOption() as any);
    return () => chart.dispose();
  }, []);
  return (
    <div
      ref={ref}
      style={{ position: 'absolute', left: 0, top: 0, width: 1902, height: 2052, background: '#fff' }}
    />
  );
}
